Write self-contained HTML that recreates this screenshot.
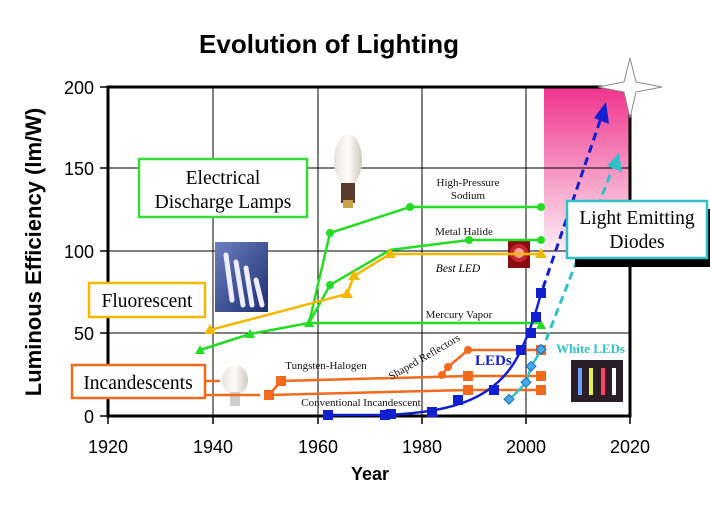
<!DOCTYPE html>
<html><head><meta charset="utf-8"><style>
html,body{margin:0;padding:0;background:#fff;width:710px;height:514px;overflow:hidden}
svg{display:block}
.s{font-family:"Liberation Sans",sans-serif}
.r{font-family:"Liberation Serif",serif}
</style></head><body>
<svg width="710" height="514" viewBox="0 0 710 514">
<defs>
<linearGradient id="pk" x1="0" y1="0" x2="0" y2="1">
<stop offset="0" stop-color="#f0338c"/><stop offset="0.55" stop-color="#f7a6cc"/><stop offset="1" stop-color="#fff"/>
</linearGradient>
<linearGradient id="bulb" x1="0" y1="0" x2="1" y2="0"><stop offset="0" stop-color="#e8e4dc"/><stop offset="0.5" stop-color="#fffdf8"/><stop offset="1" stop-color="#cfc9bd"/></linearGradient>
<linearGradient id="tube" x1="0" y1="0" x2="1" y2="1"><stop offset="0" stop-color="#6b7fc4"/><stop offset="1" stop-color="#1d2f6e"/></linearGradient>
</defs>
<text x="329" y="53" class="s" font-size="26" font-weight="bold" text-anchor="middle">Evolution of Lighting</text>
<rect x="544" y="87" width="86" height="180" fill="url(#pk)"/>
<g stroke="#000" stroke-width="1">
<line x1="108" y1="168" x2="630" y2="168"/><line x1="108" y1="251" x2="630" y2="251"/><line x1="108" y1="333" x2="630" y2="333"/>
<line x1="213" y1="87" x2="213" y2="416"/><line x1="318" y1="87" x2="318" y2="416"/><line x1="422" y1="87" x2="422" y2="416"/><line x1="526" y1="87" x2="526" y2="416"/>
</g>
<rect x="108" y="87" width="522" height="329" fill="none" stroke="#000" stroke-width="3"/>
<g stroke="#000" stroke-width="1.5">
<line x1="108" y1="416" x2="108" y2="424"/><line x1="213" y1="416" x2="213" y2="424"/><line x1="318" y1="416" x2="318" y2="424"/><line x1="422" y1="416" x2="422" y2="424"/><line x1="526" y1="416" x2="526" y2="424"/><line x1="630" y1="416" x2="630" y2="424"/>
<line x1="100" y1="87" x2="108" y2="87"/><line x1="100" y1="168" x2="108" y2="168"/><line x1="100" y1="251" x2="108" y2="251"/><line x1="100" y1="333" x2="108" y2="333"/><line x1="100" y1="416" x2="108" y2="416"/>
</g>
<g class="s" font-size="18" text-anchor="end">
<text x="94" y="94">200</text><text x="94" y="175">150</text><text x="94" y="258">100</text><text x="94" y="340">50</text><text x="94" y="423">0</text>
</g>
<g class="s" font-size="18" text-anchor="middle">
<text x="108" y="453">1920</text><text x="213" y="453">1940</text><text x="318" y="453">1960</text><text x="422" y="453">1980</text><text x="526" y="453">2000</text><text x="630" y="453">2020</text>
</g>
<text x="370" y="480" class="s" font-size="18" font-weight="bold" text-anchor="middle">Year</text>
<text transform="translate(41,252) rotate(-90)" class="s" font-size="22" font-weight="bold" text-anchor="middle">Luminous Efficiency (lm/W)</text>

<rect x="215" y="242" width="53" height="70" fill="url(#tube)"/>
<g stroke="#eef" stroke-width="5" stroke-linecap="round"><line x1="226" y1="255" x2="232" y2="300"/><line x1="236" y1="262" x2="243" y2="305"/><line x1="246" y1="268" x2="252" y2="305"/><line x1="256" y1="280" x2="262" y2="305"/></g>
<ellipse cx="348" cy="160" rx="14" ry="26" fill="url(#bulb)"/>
<rect x="341" y="183" width="14" height="20" fill="#5a3a2a"/><rect x="343" y="200" width="10" height="8" fill="#c9a24a"/>
<ellipse cx="235" cy="380" rx="13" ry="15" fill="url(#bulb)"/><rect x="230" y="392" width="10" height="14" fill="#cfcfcf"/>
<rect x="508" y="240" width="22" height="28" fill="#8a0b12"/><circle cx="519" cy="253" r="5" fill="#fff"/><circle cx="519" cy="253" r="9" fill="#f44" opacity="0.5"/>
<rect x="571" y="360" width="52" height="42" fill="#2a1e28"/>
<g stroke-width="4"><line x1="580" y1="368" x2="580" y2="395" stroke="#6aa0ff"/><line x1="591" y1="368" x2="591" y2="395" stroke="#e8f050"/><line x1="603" y1="368" x2="603" y2="395" stroke="#ff4060"/><line x1="614" y1="368" x2="614" y2="395" stroke="#fff"/></g>

<g stroke="#22dd22" stroke-width="2.5" fill="none">
<polyline points="200,350 250,334 309,323 541,323"/>
<polyline points="309,323 330,233 410,207 541,207"/>
<polyline points="309,323 330,285 390,250 469,240 541,240"/>
</g>
<g fill="#22dd22">
<circle cx="330" cy="233" r="4"/><circle cx="410" cy="207" r="4"/><circle cx="541" cy="207" r="4"/>
<circle cx="330" cy="285" r="4"/><circle cx="469" cy="240" r="4"/><circle cx="541" cy="240" r="4"/>
<polygon points="200,345 205,354 195,354"/><polygon points="250,329 255,338 245,338"/><polygon points="309,318 314,327 304,327"/><polygon points="541,320 546,329 536,329"/>
</g>
<g stroke="#f5b800" stroke-width="2.5" fill="none"><polyline points="210,330 347,294 354,276 390,254 541,254"/></g>
<g fill="#f5b800"><polygon points="210,324 216,334 204,334"/><polygon points="347,288 353,298 341,298"/><polygon points="354,270 360,280 348,280"/><polygon points="390,248 396,258 384,258"/><polygon points="541,248 547,258 535,258"/></g>
<g stroke="#f26a1b" stroke-width="2.5" fill="none">
<polyline points="205,395 260,395"/>
<polyline points="269,395 468,390 541,390"/>
<polyline points="269,395 281,381 468,376 541,376"/>
<polyline points="442,375 448,367 468,350 541,350"/>
</g>
<g fill="#f26a1b">
<rect x="264" y="390" width="10" height="10"/><rect x="276" y="376" width="10" height="10"/>
<rect x="463" y="385" width="10" height="10"/><rect x="536" y="385" width="10" height="10"/>
<rect x="463" y="371" width="10" height="10"/><rect x="536" y="371" width="10" height="10"/>
<circle cx="442" cy="375" r="4"/><circle cx="448" cy="367" r="4"/><circle cx="468" cy="350" r="4"/><rect x="536" y="345" width="10" height="10"/>
</g>
<path d="M328,415 L385,415 Q440,413 470,400 Q505,385 521,350 Q533,325 541,293" stroke="#1020d0" stroke-width="2.5" fill="none"/>
<g fill="#1020d0">
<rect x="323" y="410" width="10" height="10"/><rect x="380" y="410" width="10" height="10"/><rect x="386" y="409" width="10" height="10"/><rect x="427" y="407" width="10" height="10"/><rect x="453" y="395" width="10" height="10"/><rect x="489" y="385" width="10" height="10"/><rect x="516" y="345" width="10" height="10"/><rect x="526" y="328" width="10" height="10"/><rect x="531" y="312" width="10" height="10"/><rect x="536" y="288" width="10" height="10"/>
</g>
<line x1="543" y1="288" x2="601" y2="118" stroke="#1020d0" stroke-width="3" stroke-dasharray="8,5"/>
<polygon points="606,102 609,124 594,118" fill="#1020d0"/>
<polyline points="509,400 526,383 531,367 541,350" stroke="#30c0c8" stroke-width="2.5" fill="none"/>
<line x1="546" y1="340" x2="612" y2="170" stroke="#30c0c8" stroke-width="3" stroke-dasharray="8,5"/>
<polygon points="619,153 622,172 607,166" fill="#30c0c8"/>
<g fill="#4aa8e8" stroke="#1a70c0"><rect x="505" y="396" width="7" height="7" transform="rotate(45 509 400)"/><rect x="522" y="379" width="7" height="7" transform="rotate(45 526 383)"/><rect x="527" y="363" width="7" height="7" transform="rotate(45 531 367)"/><rect x="537" y="346" width="7" height="7" transform="rotate(45 541 350)"/></g>
<polygon points="630,58 636,82 662,87 636,92 630,118 624,92 598,87 624,82" fill="#fff" stroke="#888" stroke-width="1"/>
<g class="r" font-size="11" fill="#111" text-anchor="middle">
<text x="468" y="186">High-Pressure</text><text x="468" y="199">Sodium</text>
<text x="464" y="235">Metal Halide</text>
<text x="459" y="318">Mercury Vapor</text>
<text x="326" y="369">Tungsten-Halogen</text>
<text x="361" y="406">Conventional Incandescent</text>
<text transform="translate(426,360) rotate(-30)">Shaped Reflectors</text>
</g>
<text x="458" y="272" class="r" font-size="11.5" font-style="italic" text-anchor="middle">Best LED</text>
<text x="475" y="365" class="r" font-size="15" font-weight="bold" fill="#1020d0">LEDs</text>
<text x="556" y="353" class="r" font-size="13" font-weight="bold" fill="#30c0c8">White LEDs</text>
<rect x="139" y="159" width="168" height="58" fill="#fff" stroke="#33dd33" stroke-width="2.5"/>
<text x="223" y="184" class="r" font-size="19.5" text-anchor="middle">Electrical</text>
<text x="223" y="208" class="r" font-size="19.5" text-anchor="middle">Discharge Lamps</text>
<rect x="89" y="283" width="116" height="34" fill="#fff" stroke="#f5b800" stroke-width="2.5"/>
<text x="147" y="307" class="r" font-size="19.5" text-anchor="middle">Fluorescent</text>
<polyline points="205,381 220,381" stroke="#f26a1b" stroke-width="2.5"/>
<rect x="72" y="365" width="133" height="33" fill="#fff" stroke="#f26a1b" stroke-width="2.5"/>
<text x="138" y="389" class="r" font-size="19.5" text-anchor="middle">Incandescents</text>
<rect x="575" y="209" width="135" height="58" fill="#000"/>
<rect x="567" y="201" width="140" height="57" fill="#fff" stroke="#30c0c8" stroke-width="2.5"/>
<text x="637" y="224" class="r" font-size="19.5" text-anchor="middle">Light Emitting</text>
<text x="637" y="248" class="r" font-size="19.5" text-anchor="middle">Diodes</text>
</svg>
</body></html>
